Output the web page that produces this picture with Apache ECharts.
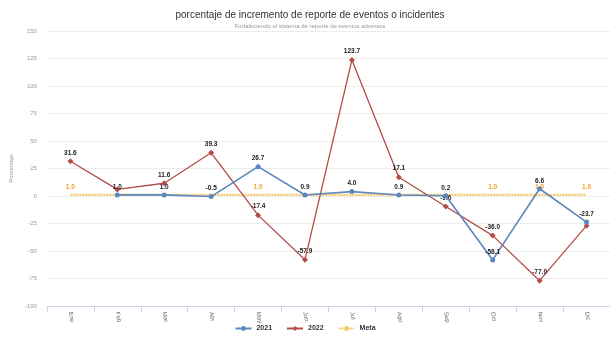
<!DOCTYPE html>
<html>
<head>
<meta charset="utf-8">
<script src="https://cdn.jsdelivr.net/npm/echarts@6/dist/echarts.min.js"></script>
<style>
  html, body { margin: 0; padding: 0; background: #fff; }
  #chart { width: 610px; height: 339px; }
</style>
</head>
<body>
<div id="chart"></div>
<script>
// Monthly categories
const months = ['Ene', 'Feb', 'Mar', 'Abr', 'May', 'Jun', 'Jul', 'Ago', 'Sep', 'Oct', 'Nov', 'Dic'];

// Percentage increase per month
const values2021 = [null, 1.0, 1.0, -0.5, 26.7, 0.9, 4.0, 0.9, 0.2, -58.1, 6.6, -23.7];
const values2022 = [31.6, 6.0, 11.6, 39.3, -17.4, -57.9, 123.7, 17.1, -9.6, -36.0, -77.0, -27.0];
const meta = [1.0, 1.0, 1.0, 1.0, 1.0, 1.0, 1.0, 1.0, 1.0, 1.0, 1.0, 1.0];

// Months whose value labels are left out to avoid collisions
const hidden2022 = [1, 11];
const shownMeta = [0, 4, 9, 10, 11];

const FONT = 'Liberation Sans, Arial, sans-serif';

function withLabels(values, visible) {
  return values.map((v, i) => ({ value: v, label: { show: visible(i) } }));
}

const chart = echarts.init(document.getElementById('chart'), null, { renderer: 'canvas' });

chart.setOption({
  animation: false,
  backgroundColor: '#ffffff',
  title: {
    text: 'porcentaje de incremento de reporte de eventos o incidentes',
    subtext: 'Fortaleciendo el sistema de reporte de eventos adversos',
    left: 305,
    textAlign: 'center',
    top: 5,
    itemGap: 3,
    textStyle: { fontFamily: FONT, fontSize: 10, fontWeight: 'normal', color: '#333333' },
    subtextStyle: { fontFamily: FONT, fontSize: 6, color: '#999999' }
  },
  legend: {
    bottom: 2,
    left: 'center',
    itemWidth: 16,
    itemHeight: 6,
    itemGap: 14,
    textStyle: { fontFamily: FONT, fontSize: 7, fontWeight: 'bold', color: '#333333' },
    data: ['2021', '2022', 'Meta']
  },
  grid: { left: 37, top: 31, width: 583, height: 275 },
  xAxis: {
    type: 'category',
    data: months,
    boundaryGap: true,
    axisLine: { onZero: false, lineStyle: { color: '#ccd6eb' } },
    axisTick: { show: true, alignWithLabel: false, length: 6, lineStyle: { color: '#ccd6eb' } },
    axisLabel: { rotate: -80, fontFamily: FONT, fontSize: 6, color: '#666666', margin: 6 }
  },
  yAxis: {
    type: 'value',
    min: -100,
    max: 150,
    interval: 25,
    name: 'Porcentaje',
    nameLocation: 'middle',
    nameGap: 24,
    nameTextStyle: { fontFamily: FONT, fontSize: 6, color: '#999999' },
    axisLine: { show: false },
    axisTick: { show: false },
    axisLabel: { fontFamily: FONT, fontSize: 6, color: '#999999', margin: 10 },
    splitLine: { lineStyle: { color: '#ececec', width: 1 } }
  },
  series: [
    {
      name: '2021',
      type: 'line',
      data: values2021,
      color: '#5b87bf',
      symbol: 'circle',
      symbolSize: 5,
      lineStyle: { width: 1.6 },
      label: {
        show: true, position: 'top', distance: 2,
        fontFamily: FONT, fontSize: 6.5, fontWeight: 'bold', color: '#222222',
        formatter: p => p.value.toFixed(1)
      },
      z: 3
    },
    {
      name: '2022',
      type: 'line',
      data: withLabels(values2022, i => !hidden2022.includes(i)),
      color: '#b24d49',
      symbol: 'diamond',
      symbolSize: 6,
      lineStyle: { width: 1.3 },
      label: {
        position: 'top', distance: 2,
        fontFamily: FONT, fontSize: 6.5, fontWeight: 'bold', color: '#222222',
        formatter: p => p.value.toFixed(1)
      },
      z: 2
    },
    {
      name: 'Meta',
      type: 'line',
      data: withLabels(meta, i => shownMeta.includes(i)),
      color: '#f8c865',
      symbol: 'circle',
      symbolSize: 0.01,
      showAllSymbol: true,
      lineStyle: { width: 2.2, type: [2, 1] },
      label: {
        position: 'top', distance: 4,
        fontFamily: FONT, fontSize: 6.5, fontWeight: 'bold', color: '#f2a22b',
        formatter: p => p.value.toFixed(1)
      },
      z: 1
    }
  ]
});
</script>
</body>
</html>
